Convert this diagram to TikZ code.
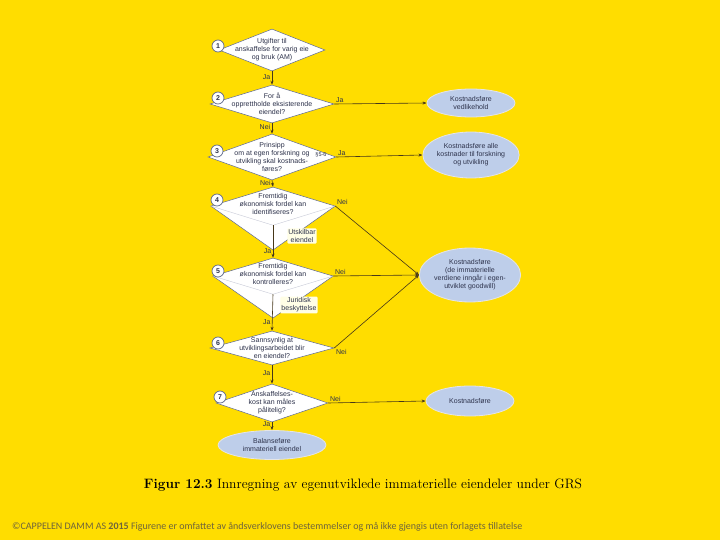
\documentclass[tikz,border=0pt]{standalone}
\usepackage{fontspec}
\newfontfamily\diafont{Liberation Sans}
\newfontfamily\notefont{Carlito}
\definecolor{PageYellow}{RGB}{255, 221, 0}
\definecolor{BoxLine}{RGB}{95, 105, 140}
\definecolor{EllFill}{RGB}{190, 206, 234}
\definecolor{ArrowBrown}{RGB}{70, 55, 25}
\definecolor{TextNavy}{RGB}{45, 50, 75}
\definecolor{NoteGray}{RGB}{110, 100, 60}
\usetikzlibrary{arrows.meta, positioning, shapes.geometric}

\begin{document}
\begin{tikzpicture}[
    x=1pt, y=-1pt,
    every node/.style={font=\diafont\fontsize{7}{8}\selectfont, text=TextNavy, align=center},
    quest/.style={diamond, draw=BoxLine, fill=white, inner sep=0pt, line width=0.5pt},
    qtext/.style={inner sep=0pt},
    num/.style={circle, draw=BoxLine, fill=white, line width=0.7pt, minimum size=12pt,
                inner sep=0pt, font=\diafont\bfseries\fontsize{7}{7}\selectfont},
    outcome/.style={ellipse, draw=white!80!gray, fill=EllFill, line width=0.8pt, inner sep=0pt},
    flow/.style={-{Stealth[length=4pt, width=3pt]}, ArrowBrown, line width=0.6pt},
    ans/.style={inner sep=1.5pt},
    note/.style={fill=yellow!10, inner sep=1pt, rounded corners=1pt}
]
\fill[PageYellow] (0,0) rectangle (720,540);
\useasboundingbox (0,0) rectangle (720,540);

% questions
\node[quest, minimum width=106pt, minimum height=42pt] (q1) at (272,50) {};
\node[quest, minimum width=124pt, minimum height=38pt] (q2) at (272,104) {};
\node[quest, minimum width=128pt, minimum height=46pt] (q3) at (272,157) {};
\node[quest, minimum width=124pt, minimum height=38pt] (q4) at (273,206) {};
\node[quest, minimum width=120pt, minimum height=36pt] (q5) at (273,276) {};
\node[quest, minimum width=124pt, minimum height=34pt] (q6) at (272,348) {};
\node[quest, minimum width=112pt, minimum height=38pt] (q7) at (272,403) {};

% lower parts of 4 and 5
\coordinate (k4) at (273,250);
\coordinate (k5) at (273,318);
\filldraw[fill=white, draw=BoxLine, line width=0.5pt] (q4.west) -- (k4) -- (q4.east);
\filldraw[fill=white, draw=BoxLine, line width=0.5pt] (q5.west) -- (k5) -- (q5.east);
\draw[BoxLine!35] (q4.west) -- (q4.south) -- (q4.east);
\draw[BoxLine!35] (q5.west) -- (q5.south) -- (q5.east);

\node[qtext] (t1) at (q1) {Utgifter til\\anskaffelse for varig eie\\og bruk (AM)};
\node[qtext] (t2) at (q2) {For å\\opprettholde eksisterende\\eiendel?};
\node[qtext] (t3) at (q3) {Prinsipp\\om at egen forskning og\\utvikling skal kostnads-\\føres?};
\node[qtext, font=\diafont\fontsize{5.5}{6}\selectfont] (p3) at (321,155) {§5-6};
\node[qtext] (t4) at ([yshift=2pt]q4) {Fremtidig\\økonomisk fordel kan\\identifiseres?};
\node[qtext] (t5) at ([yshift=2pt]q5) {Fremtidig\\økonomisk fordel kan\\kontrolleres?};
\node[qtext] (t6) at (q6) {Sannsynlig at\\utviklingsarbeidet blir\\en eiendel?};
\node[qtext] (t7) at (q7) {Anskaffelses-\\kost kan måles\\pålitelig?};
\node[note] (s4) at (302,236) {Utskilbar\\eiendel};
\node[note] (s5) at (299,305) {Juridisk\\beskyttelse};

\node[num] (n1) at (218,46) {1};
\node[num] (n2) at (218,98) {2};
\node[num] (n3) at (217,151) {3};
\node[num] (n4) at (217,200) {4};
\node[num] (n5) at (218,271) {5};
\node[num] (n6) at (218,343) {6};
\node[num] (n7) at (220,397) {7};

% outcomes
\node[outcome, minimum width=108pt, minimum height=29pt] (b1) at (272,445) {Balanseføre\\immateriell eiendel};
\node[outcome, minimum width=88pt, minimum height=28pt] (r1) at (471,103) {Kostnadsføre\\vedlikehold};
\node[outcome, minimum width=88pt, minimum height=46pt] (r2) at (471,155) {Kostnadsføre alle\\kostnader til forskning\\og utvikling};
\node[outcome, minimum width=94pt, minimum height=54pt] (r3) at (470,275) {Kostnadsføre\\(de immaterielle\\verdiene inngår i egen-\\utviklet goodwill)};
\node[outcome, minimum width=88pt, minimum height=30pt] (r4) at (470,401) {Kostnadsføre};

% connectors
\draw[flow] (q1.south) -- node[ans, left, pos=0.4] {Ja} (q2.north);
\draw[flow] (q2.south) -- node[ans, left, pos=0.4] {Nei} (q3.north);
\draw[flow] (q3.south) -- node[ans, left, pos=0.4] {Nei} (q4.north);
\draw[flow] (q4.south) -- node[ans, left, pos=0.8] {Ja} (q5.north);
\draw[flow] (q5.south) -- node[ans, left, pos=0.76] {Ja} (q6.north);
\draw[flow] (q6.south) -- node[ans, left, pos=0.45] {Ja} (q7.north);
\draw[flow] (q7.south) -- node[ans, left, pos=0.3] {Ja} (b1.north);

\draw[flow] (q2.east) -- node[ans, above right, pos=0] {Ja} (r1.west);
\draw[flow] (q3.east) -- node[ans, above right, pos=0] {Ja} (r2.west);
\draw[flow] (q4.east) -- node[ans, above right, pos=0] {Nei} (r3.west);
\draw[flow] (q5.east) -- node[ans, above right, pos=0] {Nei} (r3.west);
\draw[flow] (q6.east) -- node[ans, below right, pos=0] {Nei} (r3.west);
\draw[flow] (q7.east) -- node[ans, above right, pos=0] {Nei} (r4.west);

\node[font=\rmfamily\fontsize{13.6}{15}\selectfont, text=black] (cap) at (363,485)
    {\textbf{Figur 12.3} Innregning av egenutviklede immaterielle eiendeler under GRS};
\node[anchor=west, inner sep=0pt, font=\notefont\fontsize{10}{11}\selectfont, text=NoteGray] (foot) at (12,527)
    {©CAPPELEN DAMM AS \textbf{2015} Figurene er omfattet av åndsverklovens bestemmelser og må ikke gjengis uten forlagets tillatelse};
\end{tikzpicture}
\end{document}
